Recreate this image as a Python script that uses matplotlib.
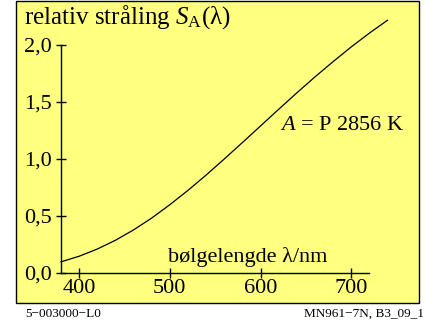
import numpy as np
import matplotlib
matplotlib.use("Agg")
import matplotlib.pyplot as plt
from matplotlib.patches import Rectangle

plt.rcParams['font.family'] = ['Liberation Serif', 'DejaVu Serif']
plt.rcParams['mathtext.fontset'] = 'custom'
plt.rcParams['mathtext.rm'] = 'Liberation Serif'
plt.rcParams['mathtext.it'] = 'Liberation Serif:italic'

# relative spectral radiation, illuminant A
wavelength = [380, 400, 420, 440, 460, 480, 500, 520, 540, 560, 580, 600,
              620, 640, 660, 680, 700, 720, 740]
radiation = [0.098, 0.147, 0.210, 0.287, 0.378, 0.482, 0.599, 0.725, 0.859,
             1.000, 1.144, 1.290, 1.436, 1.580, 1.720, 1.854, 1.983, 2.104, 2.217]
xticks = [400, 500, 600, 700]
yticks = [0.0, 0.5, 1.0, 1.5, 2.0]
ylabels = ["0,0", "0,5", "1,0", "1,5", "2,0"]

fig = plt.figure(figsize=(4.24, 3.24), dpi=100)
fig.patch.set_facecolor("white")
fig.patches.append(Rectangle((16/424, 21/324), 403/424, 302/324, transform=fig.transFigure,
                             facecolor="#ffff80", edgecolor="black", linewidth=1.0, zorder=-5))

ax = fig.add_axes([61/424, 51/324, 326.5/424, 256.5/324])
ax.patch.set_visible(False)
ax.plot(wavelength, radiation, color="black", linewidth=0.9, clip_on=False)
ax.set_xlim(380, 740)
ax.set_ylim(0, 2.25)

for s in ["top", "right"]:
    ax.spines[s].set_visible(False)
ax.spines["bottom"].set_bounds(380, 720)
ax.spines["left"].set_bounds(0, 2.0)
ax.spines["bottom"].set_linewidth(1.0)
ax.spines["left"].set_linewidth(1.0)

ax.set_xticks(xticks)
ax.set_xticklabels([str(t) for t in xticks], fontsize=16)
ax.set_yticks(yticks)
ax.set_yticklabels(ylabels, fontsize=16)
ax.tick_params(direction="inout", length=7, width=1.0)
ax.tick_params(axis="y", pad=3)
ax.tick_params(axis="x", pad=1)

fig.text(24/424, 1 - 24/324, r"relativ stråling $\mathit{S}_{\mathrm{A}}$(λ)", fontsize=18,
         ha="left", va="baseline")
fig.text(280/424, 1 - 130/324, r"$\mathit{A}$ = P 2856 K", fontsize=16, ha="left", va="baseline")
fig.text(168/424, 1 - 262/324, "bølgelengde λ/nm", fontsize=16, ha="left", va="baseline")

fig.text(25/424, 1 - 317/324, "5−003000−L0", fontsize=9.5, ha="left", va="baseline")
fig.text(424/424, 1 - 317/324, "MN961−7N, B3_09_1", fontsize=9.5, ha="right", va="baseline")

fig.savefig("out.png", dpi=100)
